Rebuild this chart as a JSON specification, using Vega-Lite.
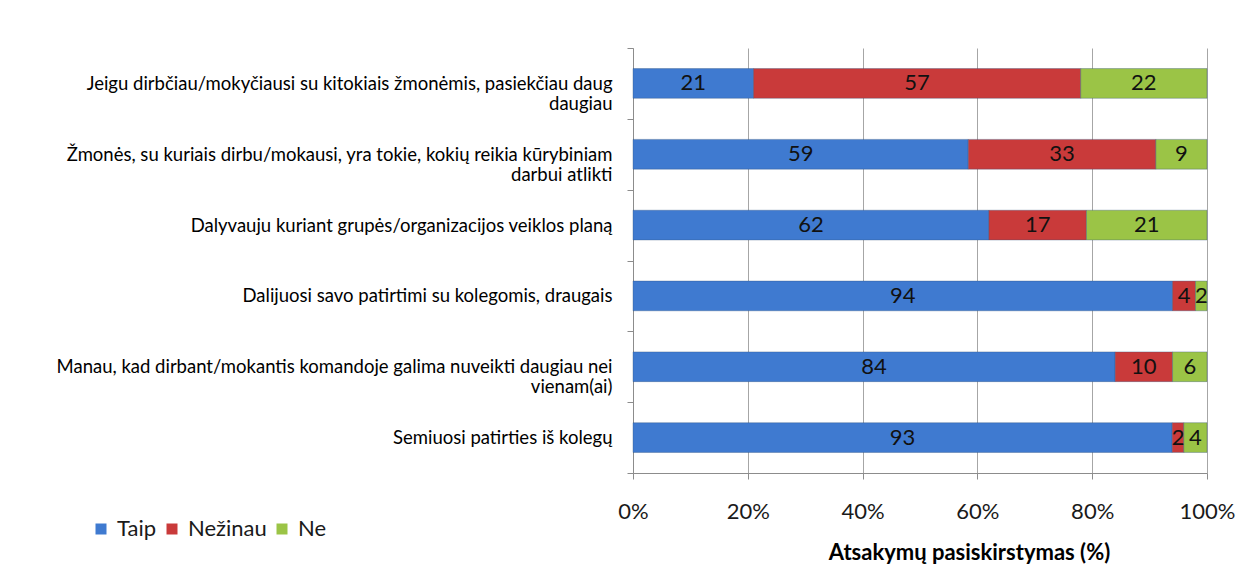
{
  "$schema": "https://vega.github.io/schema/vega-lite/v6.json",
  "width": 574,
  "height": 425,
  "autosize": {"type": "none"},
  "padding": {"left": 633, "top": 48, "right": 42, "bottom": 109},
  "background": "#ffffff",
  "config": {
    "view": {"stroke": null},
    "font": "Lato",
    "axis": {"labelFont": "Lato", "titleFont": "Lato"},
    "legend": {"labelFont": "Lato"}
  },
  "data": {
    "values": [
      {"q": "Jeigu dirbčiau/mokyčiausi su kitokiais žmonėmis, pasiekčiau daug|daugiau", "ans": "Taip", "i": 1, "v": 21},
      {"q": "Jeigu dirbčiau/mokyčiausi su kitokiais žmonėmis, pasiekčiau daug|daugiau", "ans": "Nežinau", "i": 2, "v": 57},
      {"q": "Jeigu dirbčiau/mokyčiausi su kitokiais žmonėmis, pasiekčiau daug|daugiau", "ans": "Ne", "i": 3, "v": 22},
      {"q": "Žmonės, su kuriais dirbu/mokausi, yra tokie, kokių reikia kūrybiniam|darbui atlikti", "ans": "Taip", "i": 1, "v": 59},
      {"q": "Žmonės, su kuriais dirbu/mokausi, yra tokie, kokių reikia kūrybiniam|darbui atlikti", "ans": "Nežinau", "i": 2, "v": 33},
      {"q": "Žmonės, su kuriais dirbu/mokausi, yra tokie, kokių reikia kūrybiniam|darbui atlikti", "ans": "Ne", "i": 3, "v": 9},
      {"q": "Dalyvauju kuriant grupės/organizacijos veiklos planą", "ans": "Taip", "i": 1, "v": 62},
      {"q": "Dalyvauju kuriant grupės/organizacijos veiklos planą", "ans": "Nežinau", "i": 2, "v": 17},
      {"q": "Dalyvauju kuriant grupės/organizacijos veiklos planą", "ans": "Ne", "i": 3, "v": 21},
      {"q": "Dalijuosi savo patirtimi su kolegomis, draugais", "ans": "Taip", "i": 1, "v": 94},
      {"q": "Dalijuosi savo patirtimi su kolegomis, draugais", "ans": "Nežinau", "i": 2, "v": 4},
      {"q": "Dalijuosi savo patirtimi su kolegomis, draugais", "ans": "Ne", "i": 3, "v": 2},
      {"q": "Manau, kad dirbant/mokantis komandoje galima nuveikti daugiau nei|vienam(ai)", "ans": "Taip", "i": 1, "v": 84},
      {"q": "Manau, kad dirbant/mokantis komandoje galima nuveikti daugiau nei|vienam(ai)", "ans": "Nežinau", "i": 2, "v": 10},
      {"q": "Manau, kad dirbant/mokantis komandoje galima nuveikti daugiau nei|vienam(ai)", "ans": "Ne", "i": 3, "v": 6},
      {"q": "Semiuosi patirties iš kolegų", "ans": "Taip", "i": 1, "v": 93},
      {"q": "Semiuosi patirties iš kolegų", "ans": "Nežinau", "i": 2, "v": 2},
      {"q": "Semiuosi patirties iš kolegų", "ans": "Ne", "i": 3, "v": 4}
    ]
  },
  "encoding": {
    "y": {
      "field": "q",
      "type": "nominal",
      "sort": null,
      "title": null,
      "scale": {"paddingInner": 0, "paddingOuter": 0},
      "axis": {
        "labelExpr": "split(datum.label, '|')",
        "labelFontSize": 18.5,
        "labelColor": "#000000",
        "labelLineHeight": 20,
        "labelLimit": 620,
        "labelPadding": 15,
        "tickSize": 6,
        "tickBand": "extent",
        "tickColor": "#8c8c8c",
        "domainColor": "#8c8c8c",
        "grid": false
      }
    },
    "x": {
      "field": "v",
      "type": "quantitative",
      "stack": "normalize",
      "title": "Atsakymų pasiskirstymas (%)",
      "scale": {"domain": [0, 1], "nice": false},
      "axis": {
        "format": "%",
        "values": [0, 0.2, 0.4, 0.6, 0.8, 1],
        "labelFlush": false,
        "labelFontSize": 22,
        "labelColor": "#1a1a1a",
        "labelPadding": 22,
        "tickSize": 6,
        "tickColor": "#8c8c8c",
        "domainColor": "#8c8c8c",
        "gridColor": "#a6a6a6",
        "gridWidth": 1,
        "titleFontSize": 22,
        "titleFontWeight": "bold",
        "titleColor": "#000000",
        "titleX": 336,
        "titleY": 79,
        "titleAlign": "center",
        "titleBaseline": "middle"
      }
    },
    "order": {"field": "i", "type": "quantitative"}
  },
  "layer": [
    {
      "mark": {"type": "bar", "height": {"band": 0.42}, "stroke": "#2f4f7a", "strokeOpacity": 0.35, "strokeWidth": 1},
      "encoding": {
        "color": {
          "field": "ans",
          "type": "nominal",
          "sort": ["Taip", "Nežinau", "Ne"],
          "scale": {"domain": ["Taip", "Nežinau", "Ne"], "range": ["#3f7ad0", "#c93a3a", "#9bc446"]},
          "legend": {
            "title": null,
            "orient": "none",
            "direction": "horizontal",
            "legendX": -543,
            "legendY": 470,
            "symbolType": "square",
            "symbolSize": 121,
            "symbolStrokeWidth": 0,
            "labelFontSize": 22,
            "labelColor": "#1a1a1a",
            "columnPadding": 4,
            "labelOffset": 5
          }
        }
      }
    },
    {
      "mark": {"type": "text", "fontSize": 22, "color": "#111111", "font": "Lato"},
      "encoding": {
        "x": {"field": "v", "type": "quantitative", "stack": "normalize", "bandPosition": 0.5},
        "text": {"field": "v", "type": "quantitative"}
      }
    }
  ]
}
